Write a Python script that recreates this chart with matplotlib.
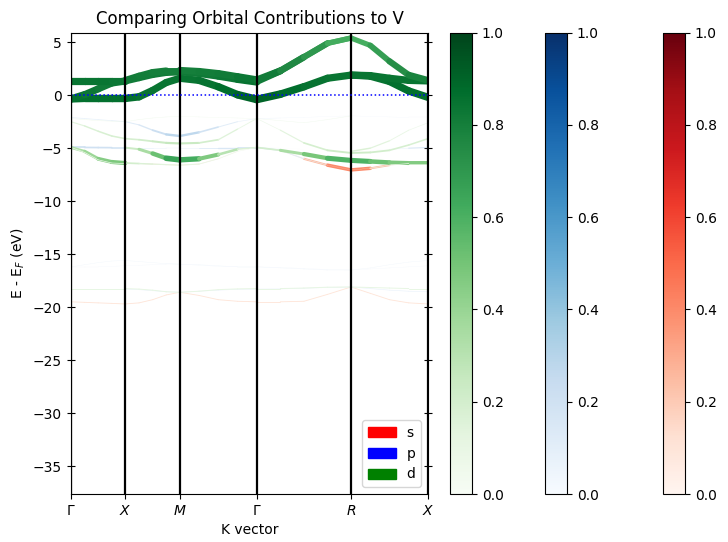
import numpy as np
import matplotlib
matplotlib.use("Agg")
import matplotlib.pyplot as plt
from matplotlib.collections import LineCollection
from matplotlib.patches import Patch
from matplotlib.colors import Normalize
from matplotlib.cm import ScalarMappable

# k-path of simple cubic cell, 5 k-points on each segment
labels = [r"$\Gamma$", r"$X$", r"$M$", r"$\Gamma$", r"$R$", r"$X$"]
seg_len = [0.5, 0.5, 0.7071, 0.8660, 0.7071]
npts = 5

# band energies (eV, relative to E_F), 5 segments x 5 points
# V t2g bands near the Fermi level
t1_E = [-0.35, -0.3, -0.3, -0.3, -0.3, -0.3, -0.15, 0.45, 1.2, 1.6,
        1.6, 1.4, 0.8, 0.05, -0.4, -0.4, 0.1, 0.8, 1.6, 1.9,
        1.9, 1.8, 1.3, 0.4, -0.2]
t1_d = [.86, .86, .86, .86, .86, .86, .86, .84, .84, .84,
        .84, .84, .86, .88, .92, .92, .88, .86, .84, .84,
        .84, .84, .86, .86, .86]
t2_E = [-0.35, 0.05, 0.6, 1.15, 1.35, 1.35, 1.65, 1.95, 2.15, 2.2,
        2.2, 2.05, 1.8, 1.5, 1.25, 1.3, 2.3, 3.6, 4.9, 5.4,
        1.9, 1.85, 1.6, 1.4, 1.35]
t2_d = [.86, .84, .82, .82, .84, .82, .81, .81, .82, .82,
        .82, .82, .82, .84, .86, .84, .78, .74, .66, .56,
        .84, .84, .84, .84, .84]
t3_E = [1.3, 1.3, 1.3, 1.3, 1.3, 1.4, 1.8, 2.15, 2.3, 2.3,
        2.35, 2.25, 2.05, 1.75, 1.45, 1.45, 2.3, 3.6, 4.9, 5.4,
        5.4, 4.7, 3.2, 1.9, 1.4]
t3_d = [.84, .84, .84, .84, .82, .82, .81, .8, .8, .8,
        .8, .8, .81, .82, .84, .84, .78, .74, .66, .58,
        .58, .64, .71, .76, .81]

# O 2p-like valence bands
a_E = [-2.1, -2.2, -2.3, -2.4, -2.5, -2.5, -2.8, -3.3, -3.7, -3.85,
       -3.85, -3.5, -3.0, -2.5, -2.2, -2.2, -2.15, -2.1, -2.0, -1.95,
       -1.95, -2.0, -2.05, -2.1, -2.1]
a_p = [.08, .08, .08, .08, .1, .1, .13, .18, .26, .3,
       .3, .24, .14, .08, .06, .06, .04, .03, .03, .03,
       .03, .03, .03, .03, .03]
b_E = [-2.5, -2.9, -3.4, -3.85, -4.1, -4.1, -4.2, -4.35, -4.5, -4.55,
       -4.55, -4.5, -4.2, -3.2, -2.2, -2.2, -2.4, -2.6, -2.3, -1.95,
       -5.3, -5.0, -4.3, -3.3, -2.6]
b_d = [.12, .15, .18, .18, .18, .18, .2, .22, .25, .26,
       .26, .22, .18, .12, .08, .05, .05, .05, .05, .05,
       .18, .16, .12, .08, .06]
c_E = [-4.93, -5.3, -6.0, -6.3, -6.4, -4.95, -5.1, -5.5, -5.95, -6.1,
       -6.1, -6.0, -5.6, -5.1, -4.93, -4.93, -5.2, -5.55, -5.95, -6.15,
       -6.15, -6.25, -6.35, -6.4, -6.4]
c_d = [.3, .36, .42, .48, .48, .18, .28, .42, .62, .68,
       .68, .56, .38, .22, .12, .12, .28, .42, .56, .62,
       .62, .56, .48, .46, .46]
d_E = [-4.93, -5.4, -6.1, -6.4, -6.45, -6.4, -6.45, -6.5, -6.55, -6.6,
       -6.6, -6.5, -6.0, -5.3, -4.93, -4.93, -5.2, -6.0, -6.6, -7.05,
       -7.05, -6.9, -6.6, -6.45, -6.45]
d_s = [0, .03, .05, .05, .05, .05, .08, .1, .1, .1,
       .1, .08, .05, .03, 0, 0, .05, .15, .35, .45,
       .45, .35, .12, .03, 0]
d_p = [0, 0, 0, 0, 0, 0, 0, 0, 0, 0,
       0, 0, 0, 0, 0, .2, .14, .07, .03, 0,
       0, 0, 0, 0, 0]
d_d = [.08, .08, .08, .08, .08, .22, .18, .15, .13, .13,
       .13, .1, .08, .06, .04, 0, 0, 0, 0, 0,
       0, .04, .08, .08, .08]
e_E = [-4.93, -4.93, -4.94, -4.95, -4.95, -4.95, -4.95, -4.95, -4.95, -4.95,
       -4.95, -4.95, -4.95, -4.95, -4.95, -4.95, -5.0, -5.1, -5.2, -5.3,
       -5.3, -5.2, -5.1, -5.0, -4.93]
e_p = [.2, .2, .2, .2, .18, .13, .09, .07, .05, .05,
       .05, .09, .13, .18, .2, .05, .02, 0, 0, 0,
       0, 0, .03, .1, .18]
f_E = [-2.2, -2.3, -2.4, -2.45, -2.5, -2.5, -2.3, -2.15, -2.05, -2.0,
       -2.0, -2.05, -2.1, -2.15, -2.2, -2.2, -3.3, -4.5, -5.2, -5.45,
       -5.45, -5.4, -5.2, -4.7, -4.1]
f_d = [.05, .05, .05, .05, .05, .05, .05, .05, .05, .04,
       .04, .04, .04, .04, .04, .04, .1, .17, .22, .22,
       .22, .22, .2, .18, .18]

# semicore bands
g_E = [-16.2, -16.0, -15.8, -15.65, -15.6, -15.6, -15.7, -15.8, -15.9, -15.95,
       -15.95, -16.0, -16.1, -16.2, -16.2, -16.2, -16.3, -16.4, -16.5, -16.5,
       -16.5, -16.3, -16.0, -15.75, -15.6]
g_p = [.04, .04, .04, .04, .04, .04, .04, .04, .04, .04,
       .04, .04, .04, .04, .04, .04, .04, .04, .04, .04,
       .04, .04, .04, .04, .04]
h_E = [-16.2, -16.2, -16.2, -16.15, -16.1, -16.1, -16.05, -16.0, -15.95, -15.95,
       -15.95, -16.05, -16.15, -16.2, -16.2, -16.2, -16.25, -16.35, -16.45, -16.5,
       -16.5, -16.4, -16.3, -16.2, -16.1]
h_p = [.03, .03, .03, .03, .03, .03, .03, .03, .03, .03,
       .03, .03, .03, .03, .03, .03, .03, .03, .03, .03,
       .03, .03, .03, .03, .03]
i_E = [-18.25, -18.25, -18.25, -18.25, -18.25, -18.25, -18.3, -18.4, -18.55, -18.6,
       -18.6, -18.5, -18.35, -18.28, -18.25, -18.25, -18.25, -18.2, -18.12, -18.1,
       -18.1, -18.15, -18.2, -18.25, -18.25]
i_d = [.11, .11, .11, .11, .11, .11, .11, .11, .11, .11,
       .11, .11, .11, .11, .11, .11, .11, .11, .11, .11,
       .11, .11, .11, .11, .11]
j_E = [-19.5, -19.55, -19.6, -19.65, -19.7, -19.7, -19.6, -19.3, -18.85, -18.6,
       -18.6, -18.9, -19.3, -19.45, -19.5, -19.5, -19.5, -19.45, -18.8, -18.1,
       -18.1, -18.7, -19.3, -19.6, -19.7]
j_s = [.1, .1, .1, .1, .1, .1, .1, .1, .1, .1,
       .1, .1, .1, .1, .1, .1, .1, .1, .1, .1,
       .1, .1, .1, .1, .1]
k_E = [-18.3, -18.3, -18.3, -18.3, -18.3, -18.3, -18.35, -18.45, -18.55, -18.6,
       -18.6, -18.5, -18.4, -18.32, -18.3, -18.3, -18.28, -18.22, -18.15, -18.1,
       -18.1, -18.25, -18.4, -18.5, -18.55]
k_p = [.07, .07, .07, .07, .07, .07, .07, .07, .07, .07,
       .07, .07, .07, .07, .07, .07, .07, .07, .07, .07,
       .07, .07, .07, .07, .07]

# (energies, s, p, d) for every band, None = no weight
bands = [
    (t1_E, None, None, t1_d),
    (t2_E, None, None, t2_d),
    (t3_E, None, None, t3_d),
    (a_E, None, a_p, None),
    (b_E, None, None, b_d),
    (c_E, None, None, c_d),
    (d_E, d_s, d_p, d_d),
    (e_E, None, e_p, None),
    (f_E, None, None, f_d),
    (g_E, None, g_p, None),
    (h_E, None, h_p, None),
    (i_E, None, None, i_d),
    (j_E, j_s, None, None),
    (k_E, None, k_p, None),
]

# k-point distances along the path
ticks = np.concatenate([[0], np.cumsum(seg_len)])
kpts = np.concatenate([np.linspace(ticks[i], ticks[i + 1], npts) for i in range(len(seg_len))])

fig = plt.figure(figsize=(7.28, 5.42), dpi=100)
ax = fig.add_axes([71 / 728, 48 / 542, 357 / 728, 461.5 / 542])
norm = Normalize(0, 1)
lw_scale = 6.2

cmaps = ["Reds", "Blues", "Greens"]
for orb, cmap in enumerate(cmaps):
    for band in bands:
        w = band[orb + 1]
        if w is None:
            continue
        E = np.array(band[0], float)
        w = np.array(w, float)
        segs, vals = [], []
        for s in range(len(seg_len)):
            for j in range(npts - 1):
                i0 = s * npts + j
                wm = 0.5 * (w[i0] + w[i0 + 1])
                if wm < 0.01:
                    continue
                segs.append([(kpts[i0], E[i0]), (kpts[i0 + 1], E[i0 + 1])])
                vals.append(wm)
        if not segs:
            continue
        vals = np.array(vals)
        lc = LineCollection(segs, cmap=cmap, norm=norm, linewidths=vals * lw_scale,
                            capstyle="round")
        lc.set_array(vals)
        ax.add_collection(lc)

for t in ticks:
    ax.axvline(t, color="black", lw=1.6)
ax.axhline(0, color="blue", ls=":", lw=1.1)

ax.set_xlim(ticks[0], ticks[-1])
ax.set_ylim(-37.64, 5.92)
ax.set_xticks(ticks)
ax.set_xticklabels(labels)
ax.yaxis.set_ticks_position("both")
ax.tick_params(axis="y", direction="inout", length=6)
ax.set_xlabel("K vector")
ax.set_ylabel(r"E - E$_F$ (eV)")
ax.set_title("Comparing Orbital Contributions to V")

handles = [Patch(color="red", label="s"), Patch(color="blue", label="p"),
           Patch(color="green", label="d")]
ax.legend(handles=handles, loc="lower right")

# colorbars: d, p, s from left to right
cb_left = [450, 545, 663]
for left, cmap in zip(cb_left, ["Greens", "Blues", "Reds"]):
    cax = fig.add_axes([left / 728, 48 / 542, 22 / 728, 461.5 / 542])
    fig.colorbar(ScalarMappable(norm=norm, cmap=cmap), cax=cax)

fig.savefig("out.png", dpi=100)
